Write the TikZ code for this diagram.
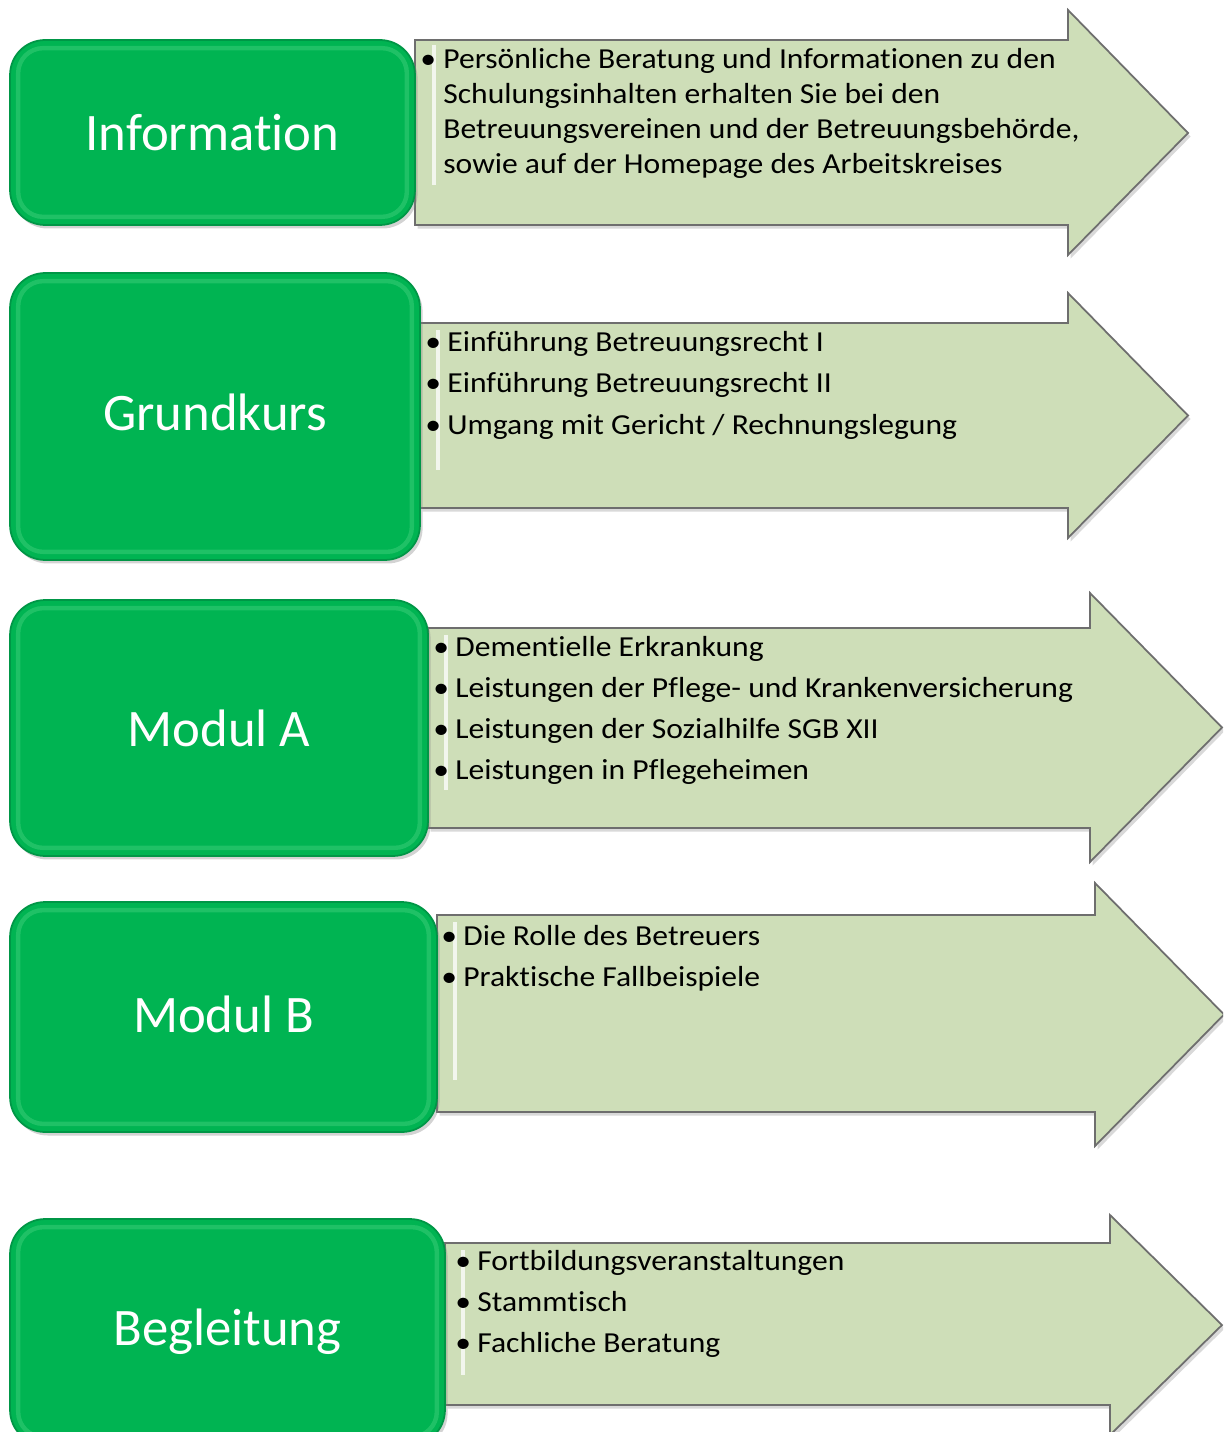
\documentclass[tikz,border=0pt]{standalone}
\usepackage{fontspec}
\setmainfont{Carlito}[Ligatures=NoCommon]
\newfontfamily\itemfont{Carlito}[Ligatures=NoCommon, FakeStretch=1.09]
\usetikzlibrary{shadows}
\definecolor{boxgreen}{RGB}{0,180,82}
\definecolor{boxedge}{RGB}{0,150,70}
\definecolor{bevelgreen}{RGB}{90,220,140}
\definecolor{arrowfill}{RGB}{206,222,184}
\definecolor{arrowedge}{RGB}{110,110,110}
\tikzset{
  greenbox/.style={draw=boxedge, line width=1pt, fill=boxgreen, rounded corners=0.7cm,
    text=white, font=\fontsize{30}{36}\selectfont, inner sep=0pt,
    drop shadow={shadow xshift=1.5pt, shadow yshift=-2pt, opacity=0.35}},
  bevel/.style={draw=bevelgreen, line width=2.5pt, rounded corners=0.5cm, opacity=0.35},
  arrowshape/.style={draw=arrowedge, line width=1pt, fill=arrowfill,
    drop shadow={shadow xshift=1.5pt, shadow yshift=-2pt, opacity=0.3}},
  shine/.style={draw=white, line width=2.5pt, opacity=0.75},
  itemline/.style={anchor=base west, inner sep=0pt, font=\itemfont\fontsize{16.5}{20}\selectfont},
  dot/.style={anchor=base west, inner sep=0pt, font=\itemfont\fontsize{16.5}{20}\selectfont}
}
\begin{document}
\begin{tikzpicture}[x=0.02cm,y=-0.02cm]
\useasboundingbox (0,0) rectangle (1223,1432);
\clip (0,0) rectangle (1223,1432);

% Information
\draw[arrowshape] (415,40) -- (1068,40) -- (1068,10) -- (1188,133) -- (1068,255) -- (1068,225) -- (415,225) -- cycle;
\draw[shine] (434,45) -- (434,185);
\node[greenbox, minimum width=8.1cm, minimum height=3.7cm] (info) at (212.5,132.5) {Information};
\draw[bevel] ([shift={(9,9)}]info.north west) rectangle ([shift={(-9,-9)}]info.south east);
\node[dot] (info-b1) at (420,69) {\textbullet};
\node[itemline] (info-l1) at (443,69) {Persönliche Beratung und Informationen zu den};
\node[itemline] (info-l2) at (443,104) {Schulungsinhalten erhalten Sie bei den};
\node[itemline] (info-l3) at (443,139) {Betreuungsvereinen und der Betreuungsbehörde,};
\node[itemline] (info-l4) at (443,174) {sowie auf der Homepage des Arbeitskreises};

% Grundkurs
\draw[arrowshape] (420,323) -- (1068,323) -- (1068,293) -- (1188,415.5) -- (1068,538) -- (1068,508) -- (420,508) -- cycle;
\draw[shine] (438,330) -- (438,470);
\node[greenbox, minimum width=8.2cm, minimum height=5.74cm] (grund) at (215,416.5) {\raisebox{5pt}{Grundkurs}};
\draw[bevel] ([shift={(9,9)}]grund.north west) rectangle ([shift={(-9,-9)}]grund.south east);
\node[dot] (grund-b1) at (425,352) {\textbullet};
\node[itemline] (grund-l1) at (447,352) {Einführung Betreuungsrecht I};
\node[dot] (grund-b2) at (425,393) {\textbullet};
\node[itemline] (grund-l2) at (447,393) {Einführung Betreuungsrecht II};
\node[dot] (grund-b3) at (425,434) {\textbullet};
\node[itemline] (grund-l3) at (447,434) {Umgang mit Gericht / Rechnungslegung};

% Modul A
\draw[arrowshape] (428,628) -- (1090,628) -- (1090,593) -- (1222,727.5) -- (1090,862) -- (1090,828) -- (428,828) -- cycle;
\draw[shine] (446,635) -- (446,790);
\node[greenbox, minimum width=8.36cm, minimum height=5.12cm] (moda) at (219,728) {Modul A};
\draw[bevel] ([shift={(9,9)}]moda.north west) rectangle ([shift={(-9,-9)}]moda.south east);
\node[dot] (moda-b1) at (433,656) {\textbullet};
\node[itemline] (moda-l1) at (455,656) {Dementielle Erkrankung};
\node[dot] (moda-b2) at (433,697) {\textbullet};
\node[itemline] (moda-l2) at (455,697) {Leistungen der Pflege- und Krankenversicherung};
\node[dot] (moda-b3) at (433,738) {\textbullet};
\node[itemline] (moda-l3) at (455,738) {Leistungen der Sozialhilfe SGB XII};
\node[dot] (moda-b4) at (433,779) {\textbullet};
\node[itemline] (moda-l4) at (455,779) {Leistungen in Pflegeheimen};

% Modul B
\draw[arrowshape] (437,915) -- (1095,915) -- (1095,883) -- (1224,1014.5) -- (1095,1146) -- (1095,1112) -- (437,1112) -- cycle;
\draw[shine] (455,922) -- (455,1080);
\node[greenbox, minimum width=8.54cm, minimum height=4.6cm] (modb) at (223.5,1017) {\raisebox{3pt}{Modul B}};
\draw[bevel] ([shift={(9,9)}]modb.north west) rectangle ([shift={(-9,-9)}]modb.south east);
\node[dot] (modb-b1) at (441,945) {\textbullet};
\node[itemline] (modb-l1) at (463,945) {Die Rolle des Betreuers};
\node[dot] (modb-b2) at (441,986) {\textbullet};
\node[itemline] (modb-l2) at (463,986) {Praktische Fallbeispiele};

% Begleitung
\draw[arrowshape] (445,1243) -- (1110,1243) -- (1110,1215) -- (1222,1325) -- (1110,1435) -- (1110,1405) -- (445,1405) -- cycle;
\draw[shine] (463,1250) -- (463,1375);
\node[greenbox, minimum width=8.7cm, minimum height=4.52cm] (begl) at (227.5,1332) {Begleitung};
\draw[bevel] ([shift={(9,9)}]begl.north west) rectangle ([shift={(-9,-9)}]begl.south east);
\node[dot] (begl-b1) at (455,1270) {\textbullet};
\node[itemline] (begl-l1) at (477,1270) {Fortbildungsveranstaltungen};
\node[dot] (begl-b2) at (455,1311) {\textbullet};
\node[itemline] (begl-l2) at (477,1311) {Stammtisch};
\node[dot] (begl-b3) at (455,1352) {\textbullet};
\node[itemline] (begl-l3) at (477,1352) {Fachliche Beratung};
\end{tikzpicture}
\end{document}
